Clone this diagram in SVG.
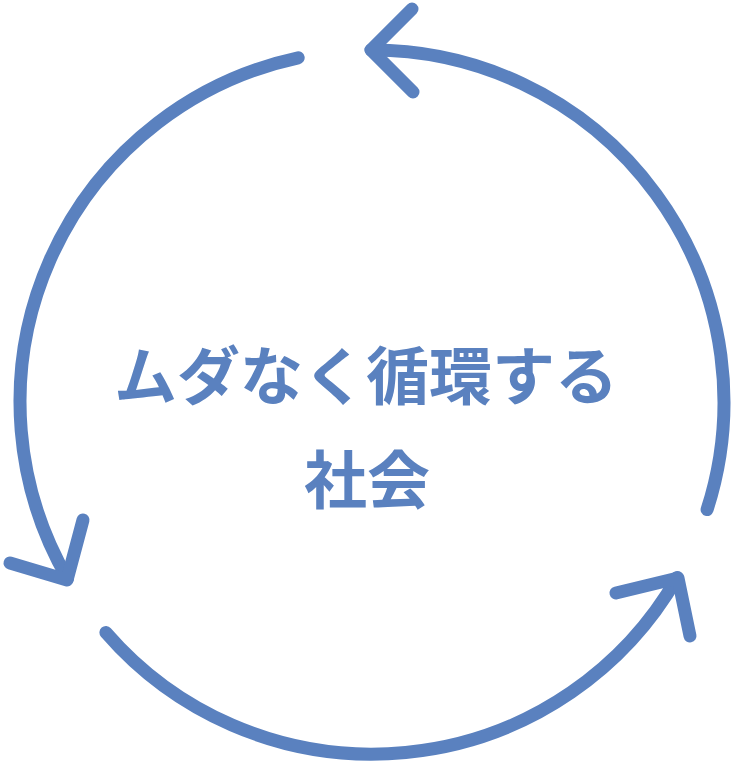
<svg xmlns="http://www.w3.org/2000/svg" width="732" height="763" viewBox="0 0 732 763">
<style>
.ln{fill:none;stroke:#5a81bf;stroke-width:13;stroke-linecap:round;stroke-linejoin:round}
.t{font-family:"Noto Sans CJK JP","Noto Sans CJK SC",sans-serif;font-weight:700;font-size:63px;fill:#5a81bf;text-anchor:middle}
</style>
<rect width="732" height="763" fill="#ffffff"/>
<g id="connectors">
<path class="ln" d="M 371 50 A 352 352 0 0 1 707.1 509.6"/>
<path class="ln" d="M 412 9 L 371 50 L 413 92"/>
<path class="ln" d="M 298.2 57.8 A 352 352 0 0 0 67.5 578.5"/>
<path class="ln" d="M 10 563 L 67 580 L 83 520"/>
<path class="ln" d="M 105.9 632.5 A 352 352 0 0 0 677.2 577.5"/>
<path class="ln" d="M 616 593 L 678 578 L 690 636"/>
</g>
<g id="label">
<text class="t" x="366" y="399">ムダなく循環する</text>
<text class="t" x="367" y="503">社会</text>
</g>
</svg>
